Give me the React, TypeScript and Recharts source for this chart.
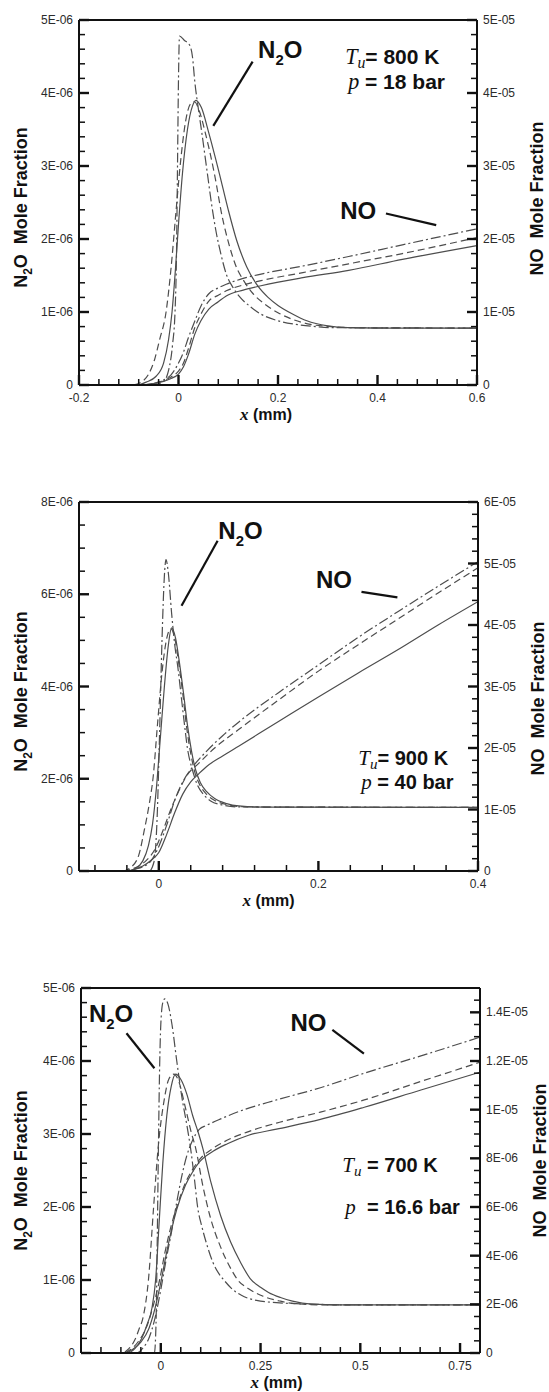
import { LineChart, Line, XAxis, YAxis, ReferenceLine, ReferenceDot } from "recharts";
import type { ReactNode } from "react";

type Pt = [number, number];

const SANS = "'Liberation Sans', Arial, Helvetica, sans-serif";
const SERIF = "'Liberation Serif', 'Times New Roman', serif";
const INK = "#111";
const CURVE = "#4d4d4d";
const DASHED = "7 4";
const DASH_DOT = "10 3 2 3";

// ---------- Tu = 800 K, p = 18 bar ----------
const p1XTicks = [-0.2, 0, 0.2, 0.4, 0.6];
const p1XLabels = ["-0.2", "0", "0.2", "0.4", "0.6"];
const p1LeftTicks = [0, 1e-6, 2e-6, 3e-6, 4e-6, 5e-6];
const p1LeftLabels = ["0", "1E-06", "2E-06", "3E-06", "4E-06", "5E-06"];
const p1RightTicks = [0, 1e-5, 2e-5, 3e-5, 4e-5, 5e-5];
const p1RightLabels = ["0", "1E-05", "2E-05", "3E-05", "4E-05", "5E-05"];

// N2O in 1e-6
const p1N2oSolid: Pt[] = [[-0.2, 0], [-0.085, 0], [-0.065, 0.04], [-0.045, 0.12], [-0.03, 0.3], [-0.02, 0.62], [-0.013, 1.0], [-0.006, 1.6], [0, 2.2], [0.008, 2.9], [0.018, 3.5], [0.028, 3.82], [0.035, 3.9], [0.046, 3.8], [0.061, 3.45], [0.082, 2.9], [0.1, 2.4], [0.117, 1.98], [0.137, 1.62], [0.159, 1.36], [0.18, 1.2], [0.2, 1.09], [0.23, 0.97], [0.258, 0.88], [0.3, 0.81], [0.34, 0.785], [0.4, 0.78], [0.6, 0.78]];
const p1N2oDashed: Pt[] = [[-0.2, 0], [-0.095, 0], [-0.075, 0.04], [-0.06, 0.15], [-0.048, 0.35], [-0.038, 0.62], [-0.025, 1.0], [-0.015, 1.6], [-0.006, 2.3], [0.004, 3.05], [0.014, 3.6], [0.024, 3.85], [0.032, 3.88], [0.042, 3.75], [0.054, 3.45], [0.072, 2.9], [0.088, 2.3], [0.103, 1.89], [0.116, 1.62], [0.131, 1.43], [0.15, 1.25], [0.173, 1.11], [0.2, 0.99], [0.229, 0.9], [0.265, 0.83], [0.307, 0.8], [0.35, 0.785], [0.6, 0.78]];
const p1N2oDashDot: Pt[] = [[-0.2, 0], [-0.05, 0], [-0.03, 0.05], [-0.02, 0.2], [-0.012, 0.55], [-0.007, 1.0], [-0.004, 1.8], [-0.002, 3.0], [0, 4.2], [0.002, 4.78], [0.012, 4.72], [0.022, 4.66], [0.028, 4.5], [0.033, 4.14], [0.04, 3.78], [0.047, 3.45], [0.058, 2.9], [0.066, 2.5], [0.075, 2.12], [0.085, 1.8], [0.096, 1.52], [0.11, 1.33], [0.124, 1.2], [0.145, 1.07], [0.166, 0.97], [0.2, 0.88], [0.236, 0.83], [0.275, 0.8], [0.314, 0.785], [0.6, 0.78]];
// NO in 1e-5
const p1NoSolid: Pt[] = [[-0.2, 0], [-0.08, 0], [-0.05, 0.02], [-0.03, 0.05], [-0.015, 0.09], [0, 0.15], [0.01, 0.25], [0.02, 0.42], [0.033, 0.7], [0.045, 0.88], [0.061, 1.04], [0.08, 1.14], [0.096, 1.22], [0.13, 1.3], [0.166, 1.36], [0.25, 1.47], [0.342, 1.57], [0.45, 1.72], [0.6, 1.91]];
const p1NoDashed: Pt[] = [[-0.2, 0], [-0.08, 0], [-0.05, 0.02], [-0.03, 0.06], [-0.015, 0.11], [0, 0.19], [0.01, 0.3], [0.02, 0.5], [0.033, 0.79], [0.045, 0.97], [0.061, 1.15], [0.08, 1.23], [0.096, 1.29], [0.13, 1.37], [0.166, 1.43], [0.25, 1.54], [0.342, 1.66], [0.45, 1.8], [0.6, 2.02]];
const p1NoDashDot: Pt[] = [[-0.2, 0], [-0.07, 0], [-0.05, 0.02], [-0.03, 0.07], [-0.015, 0.14], [0, 0.3], [0.01, 0.45], [0.02, 0.65], [0.033, 0.88], [0.045, 1.08], [0.061, 1.25], [0.08, 1.33], [0.096, 1.38], [0.13, 1.46], [0.166, 1.52], [0.25, 1.63], [0.342, 1.76], [0.45, 1.92], [0.6, 2.14]];

// ---------- Tu = 900 K, p = 40 bar ----------
const p2XTicks = [0, 0.2, 0.4];
const p2XLabels = ["0", "0.2", "0.4"];
const p2LeftTicks = [0, 2e-6, 4e-6, 6e-6, 8e-6];
const p2LeftLabels = ["0", "2E-06", "4E-06", "6E-06", "8E-06"];
const p2RightTicks = [0, 1e-5, 2e-5, 3e-5, 4e-5, 5e-5, 6e-5];
const p2RightLabels = ["0", "1E-05", "2E-05", "3E-05", "4E-05", "5E-05", "6E-05"];

const p2N2oSolid: Pt[] = [[-0.1, 0], [-0.04, 0], [-0.03, 0.05], [-0.02, 0.22], [-0.013, 0.55], [-0.008, 1.0], [-0.003, 1.8], [0.002, 2.9], [0.007, 4.0], [0.012, 4.9], [0.016, 5.27], [0.021, 5.05], [0.026, 4.5], [0.031, 3.85], [0.036, 3.15], [0.041, 2.6], [0.046, 2.2], [0.052, 1.92], [0.06, 1.72], [0.07, 1.57], [0.085, 1.46], [0.1, 1.41], [0.13, 1.385], [0.4, 1.38]];
const p2N2oDashed: Pt[] = [[-0.1, 0], [-0.045, 0], [-0.035, 0.08], [-0.025, 0.35], [-0.018, 0.9], [-0.012, 1.45], [-0.007, 2.05], [-0.002, 3.1], [0.004, 4.3], [0.01, 5.05], [0.015, 5.25], [0.02, 5.05], [0.025, 4.5], [0.03, 3.85], [0.035, 3.1], [0.04, 2.55], [0.045, 2.15], [0.051, 1.88], [0.06, 1.66], [0.07, 1.53], [0.085, 1.44], [0.1, 1.4], [0.13, 1.385], [0.4, 1.38]];
const p2N2oDashDot: Pt[] = [[-0.1, 0], [-0.012, 0], [-0.006, 0.2], [-0.002, 1.2], [0.001, 3.0], [0.004, 5.0], [0.007, 6.4], [0.009, 6.75], [0.012, 6.45], [0.016, 5.6], [0.02, 4.9], [0.024, 4.4], [0.028, 3.8], [0.032, 3.2], [0.036, 2.65], [0.042, 2.2], [0.048, 1.88], [0.056, 1.66], [0.065, 1.52], [0.08, 1.43], [0.1, 1.39], [0.4, 1.38]];
const p2NoSolid: Pt[] = [[-0.1, 0], [-0.04, 0], [-0.03, 0.03], [-0.02, 0.08], [-0.01, 0.17], [0, 0.3], [0.01, 0.6], [0.02, 0.95], [0.03, 1.25], [0.04, 1.45], [0.05, 1.58], [0.06, 1.7], [0.08, 1.87], [0.1, 2.03], [0.15, 2.43], [0.2, 2.83], [0.25, 3.22], [0.3, 3.6], [0.35, 4.0], [0.4, 4.38]];
const p2NoDashed: Pt[] = [[-0.1, 0], [-0.045, 0], [-0.035, 0.03], [-0.025, 0.08], [-0.015, 0.18], [-0.005, 0.35], [0.005, 0.65], [0.015, 1.0], [0.025, 1.3], [0.035, 1.55], [0.05, 1.75], [0.07, 2.0], [0.1, 2.3], [0.15, 2.78], [0.2, 3.25], [0.25, 3.68], [0.3, 4.1], [0.35, 4.52], [0.4, 4.93]];
const p2NoDashDot: Pt[] = [[-0.1, 0], [-0.04, 0], [-0.03, 0.03], [-0.02, 0.07], [-0.01, 0.16], [0, 0.4], [0.01, 0.75], [0.02, 1.15], [0.03, 1.45], [0.04, 1.65], [0.06, 1.95], [0.08, 2.2], [0.1, 2.42], [0.15, 2.9], [0.2, 3.35], [0.25, 3.8], [0.3, 4.22], [0.35, 4.63], [0.4, 5.03]];

// ---------- Tu = 700 K, p = 16.6 bar ----------
const p3XTicks = [0, 0.25, 0.5, 0.75];
const p3XLabels = ["0", "0.25", "0.5", "0.75"];
const p3LeftTicks = [0, 1e-6, 2e-6, 3e-6, 4e-6, 5e-6];
const p3LeftLabels = ["0", "1E-06", "2E-06", "3E-06", "4E-06", "5E-06"];
const p3RightTicks = [0, 2e-6, 4e-6, 6e-6, 8e-6, 1e-5, 1.2e-5, 1.4e-5];
const p3RightLabels = ["0", "2E-06", "4E-06", "6E-06", "8E-06", "1E-05", "1.2E-05", "1.4E-05"];

const p3N2oSolid: Pt[] = [[-0.2, 0], [-0.085, 0], [-0.065, 0.06], [-0.048, 0.2], [-0.035, 0.38], [-0.022, 0.62], [-0.013, 1.0], [-0.004, 1.8], [0.005, 2.6], [0.015, 3.25], [0.026, 3.65], [0.037, 3.82], [0.05, 3.75], [0.065, 3.55], [0.08, 3.25], [0.095, 3.0], [0.106, 2.79], [0.125, 2.35], [0.15, 1.88], [0.175, 1.52], [0.2, 1.24], [0.224, 1.02], [0.25, 0.9], [0.27, 0.83], [0.3, 0.76], [0.33, 0.71], [0.378, 0.67], [0.45, 0.66], [0.8, 0.66]];
const p3N2oDashed: Pt[] = [[-0.2, 0], [-0.1, 0], [-0.08, 0.06], [-0.065, 0.18], [-0.055, 0.32], [-0.044, 0.5], [-0.031, 1.0], [-0.018, 2.0], [-0.006, 2.85], [0.008, 3.45], [0.02, 3.75], [0.033, 3.82], [0.045, 3.72], [0.06, 3.4], [0.075, 3.05], [0.088, 2.79], [0.105, 2.3], [0.123, 1.88], [0.15, 1.45], [0.176, 1.15], [0.193, 1.0], [0.22, 0.88], [0.255, 0.78], [0.3, 0.71], [0.33, 0.68], [0.4, 0.66], [0.8, 0.66]];
const p3N2oDashDot: Pt[] = [[-0.2, 0], [-0.016, 0], [-0.012, 0.4], [-0.009, 1.5], [-0.006, 2.8], [-0.003, 3.9], [0, 4.5], [0.005, 4.8], [0.01, 4.85], [0.018, 4.78], [0.028, 4.5], [0.04, 4.0], [0.053, 3.5], [0.066, 3.1], [0.075, 2.79], [0.085, 2.35], [0.092, 2.01], [0.103, 1.73], [0.114, 1.51], [0.13, 1.25], [0.149, 1.06], [0.158, 1.0], [0.18, 0.87], [0.202, 0.79], [0.24, 0.72], [0.29, 0.69], [0.378, 0.67], [0.45, 0.66], [0.8, 0.66]];
// NO in 1e-6
const p3NoSolid: Pt[] = [[-0.2, 0], [-0.09, 0], [-0.07, 0.15], [-0.05, 0.45], [-0.03, 1.0], [-0.015, 1.8], [0, 2.9], [0.013, 4.0], [0.026, 5.0], [0.04, 5.9], [0.062, 6.9], [0.08, 7.45], [0.097, 7.85], [0.132, 8.3], [0.167, 8.6], [0.22, 8.95], [0.29, 9.2], [0.4, 9.6], [0.51, 10.1], [0.65, 10.8], [0.8, 11.54]];
const p3NoDashed: Pt[] = [[-0.2, 0], [-0.095, 0], [-0.075, 0.15], [-0.055, 0.5], [-0.035, 1.1], [-0.018, 2.0], [-0.003, 3.0], [0.01, 4.1], [0.024, 5.1], [0.04, 6.0], [0.062, 7.0], [0.08, 7.55], [0.097, 7.95], [0.132, 8.42], [0.167, 8.75], [0.22, 9.1], [0.29, 9.45], [0.4, 9.9], [0.51, 10.4], [0.65, 11.15], [0.8, 11.95]];
const p3NoDashDot: Pt[] = [[-0.2, 0], [-0.06, 0], [-0.045, 0.2], [-0.03, 0.6], [-0.015, 1.4], [0, 2.6], [0.013, 3.8], [0.026, 4.9], [0.04, 6.2], [0.053, 7.3], [0.065, 8.1], [0.08, 8.75], [0.097, 9.2], [0.114, 9.35], [0.15, 9.62], [0.2, 9.95], [0.29, 10.4], [0.4, 10.9], [0.51, 11.5], [0.65, 12.2], [0.8, 12.98]];

interface Curve {
  pts: Pt[];
  unit: number;
  axis: "left" | "right";
  dash?: string;
}

interface AxisSpec {
  max: number;
  ticks: number[];
  labels: string[];
  minor: number;
}

interface PanelProps {
  top: number;
  height: number;
  plotTop: number;
  plotBottom: number;
  plotLeft: number;
  plotRight: number;
  xDomain: [number, number];
  xTicks: number[];
  xLabels: string[];
  xMinor: number;
  left: AxisSpec;
  right: AxisSpec;
  curves: Curve[];
  titleShift: { x: number; left: number; right: number };
  notes: ReactNode[];
}

function minorTicks(lo: number, hi: number, step: number) {
  const a = Math.ceil(lo / step - 1e-6);
  const b = Math.floor(hi / step + 1e-6);
  const out: number[] = [];
  for (let i = a; i <= b; i++) out.push(i * step);
  return out;
}

// ticks point into the plot; only the major ones carry a label
function makeTick(side: "bottom" | "left" | "right", majors: number[], labels: string[], step: number) {
  return (p: any) => {
    const i = majors.findIndex((m) => Math.abs(m - p.payload.value) < step * 0.01);
    const major = i >= 0;
    const len = major ? 10 : 6;
    const sw = major ? 2.4 : 1.5;
    const { x, y } = p;
    const txt = { fontFamily: SANS, fontSize: 12, fill: "#2b2b2b" };
    if (side === "bottom") {
      return (
        <g>
          <line x1={x} x2={x} y1={y} y2={y - len} stroke={INK} strokeWidth={sw} />
          {major && <text x={x} y={y + 17} textAnchor="middle" {...txt}>{labels[i]}</text>}
        </g>
      );
    }
    const dir = side === "left" ? 1 : -1;
    return (
      <g>
        <line x1={x} x2={x + dir * len} y1={y} y2={y} stroke={INK} strokeWidth={sw} />
        {major && (
          <text x={x - dir * 6} y={y + 4} textAnchor={side === "left" ? "end" : "start"} {...txt}>
            {labels[i]}
          </text>
        )}
      </g>
    );
  };
}

const rows = (c: Curve) => c.pts.map(([x, v]) => ({ x, y: v * c.unit }));

function N2OText({ x, y, size }: { x: number; y: number; size: number }) {
  return (
    <text x={x} y={y} fontFamily={SANS} fontWeight="bold" fontSize={size} fill={INK}>
      N<tspan fontSize={size * 0.62} dy={size * 0.28}>2</tspan>
      <tspan dy={-size * 0.28}>O</tspan>
    </text>
  );
}

function Conditions({ x, y, size, gap, first, second }: { x: number; y: number; size: number; gap: number; first: string; second: string }) {
  const base = { fontFamily: SANS, fontWeight: "bold" as const, fontSize: size, fill: INK, style: { whiteSpace: "pre" as const } };
  return (
    <g>
      <text x={x} y={y} {...base}>
        <tspan fontFamily={SERIF} fontStyle="italic" fontWeight="normal" fontSize={size * 1.05}>T</tspan>
        <tspan fontFamily={SERIF} fontStyle="italic" fontWeight="normal" fontSize={size * 0.75} dy={4}>u</tspan>
        <tspan dy={-4}>{first}</tspan>
      </text>
      <text x={x + 3} y={y + gap} {...base}>
        <tspan fontFamily={SERIF} fontStyle="italic" fontWeight="normal" fontSize={size * 1.05}>p</tspan>
        <tspan>{second}</tspan>
      </text>
    </g>
  );
}

// text anchored to a data point on the chart
function note(key: string, axis: "left" | "right", x: number, y: number, draw: (px: number, py: number) => ReactNode) {
  return (
    <ReferenceDot
      key={key}
      yAxisId={axis}
      x={x}
      y={y}
      r={0}
      fill="none"
      stroke="none"
      ifOverflow="visible"
      label={(lp: any) => draw(lp.viewBox.x, lp.viewBox.y)}
    />
  );
}

function pointer(key: string, axis: "left" | "right", a: [number, number], b: [number, number]) {
  return (
    <ReferenceLine
      key={key}
      yAxisId={axis}
      segment={[{ x: a[0], y: a[1] }, { x: b[0], y: b[1] }]}
      stroke={INK}
      strokeWidth={2.2}
      ifOverflow="visible"
    />
  );
}

function Panel(props: PanelProps) {
  const { top, height, plotTop, plotBottom, plotLeft, plotRight, xDomain, left, right, titleShift } = props;
  const axisLine = { stroke: INK, strokeWidth: 2 };
  const titleText = { fontFamily: SANS, fontWeight: "bold" as const, fontSize: 18, fill: INK, style: { whiteSpace: "pre" as const } };
  return (
    <div style={{ position: "absolute", left: 0, top }}>
      <LineChart width={549} height={height} margin={{ top: plotTop, right: 0, bottom: height - plotBottom - 30, left: 0 }}>
        <XAxis
          type="number"
          dataKey="x"
          domain={xDomain}
          allowDataOverflow
          ticks={minorTicks(xDomain[0], xDomain[1], props.xMinor)}
          interval={0}
          tickSize={0}
          tickMargin={0}
          tickLine={false}
          tick={makeTick("bottom", props.xTicks, props.xLabels, props.xMinor)}
          axisLine={axisLine}
          height={30}
          label={(lp: any) => (
            <text
              x={lp.viewBox.x + lp.viewBox.width / 2 + titleShift.x}
              y={lp.viewBox.y + 35}
              textAnchor="middle"
              {...titleText}
              fontSize={16}
            >
              <tspan fontFamily={SERIF} fontStyle="italic" fontSize={17}>x</tspan>
              <tspan> (mm)</tspan>
            </text>
          )}
        />
        <YAxis
          yAxisId="left"
          orientation="left"
          type="number"
          width={plotLeft}
          domain={[0, left.max]}
          allowDataOverflow
          ticks={minorTicks(0, left.max, left.minor)}
          interval={0}
          tickSize={0}
          tickMargin={0}
          tickLine={false}
          tick={makeTick("left", left.ticks, left.labels, left.minor)}
          axisLine={axisLine}
          label={(lp: any) => (
            <text
              transform={`translate(${lp.viewBox.x + 27},${lp.viewBox.y + lp.viewBox.height / 2 + titleShift.left}) rotate(-90)`}
              textAnchor="middle"
              {...titleText}
            >
              N<tspan fontSize={12} dy={5}>2</tspan>
              <tspan dy={-5}>O  Mole Fraction</tspan>
            </text>
          )}
        />
        <YAxis
          yAxisId="right"
          orientation="right"
          type="number"
          width={549 - plotRight}
          domain={[0, right.max]}
          allowDataOverflow
          ticks={minorTicks(0, right.max, right.minor)}
          interval={0}
          tickSize={0}
          tickMargin={0}
          tickLine={false}
          tick={makeTick("right", right.ticks, right.labels, right.minor)}
          axisLine={axisLine}
          label={(lp: any) => (
            <text
              transform={`translate(${lp.viewBox.x + 66},${lp.viewBox.y + lp.viewBox.height / 2 + titleShift.right}) rotate(-90)`}
              textAnchor="middle"
              {...titleText}
            >
              NO  Mole Fraction
            </text>
          )}
        />
        <ReferenceLine yAxisId="left" y={left.max} stroke={INK} strokeWidth={2} ifOverflow="visible" />
        {props.curves.map((c, i) => (
          <Line
            key={i}
            yAxisId={c.axis}
            data={rows(c)}
            dataKey="y"
            type="monotone"
            dot={false}
            activeDot={false}
            stroke={CURVE}
            strokeWidth={1.2}
            strokeDasharray={c.dash}
            isAnimationActive={false}
          />
        ))}
        {props.notes}
      </LineChart>
    </div>
  );
}

const curveSet = (n2o: Pt[][], no: Pt[][], n2oUnit: number, noUnit: number): Curve[] => {
  const dashes = [undefined, DASHED, DASH_DOT];
  return [
    ...n2o.map((pts, i) => ({ pts, unit: n2oUnit, axis: "left" as const, dash: dashes[i] })),
    ...no.map((pts, i) => ({ pts, unit: noUnit, axis: "right" as const, dash: dashes[i] })),
  ];
};

export default function App() {
  return (
    <div style={{ position: "absolute", left: 0, top: 0, width: 549, height: 1392, background: "#fff" }}>
      <Panel
        top={0}
        height={440}
        plotTop={20}
        plotBottom={385}
        plotLeft={79}
        plotRight={477}
        xDomain={[-0.2, 0.6]}
        xTicks={p1XTicks}
        xLabels={p1XLabels}
        xMinor={0.04}
        left={{ max: 5e-6, ticks: p1LeftTicks, labels: p1LeftLabels, minor: 0.2e-6 }}
        right={{ max: 5e-5, ticks: p1RightTicks, labels: p1RightLabels, minor: 0.2e-5 }}
        curves={curveSet([p1N2oSolid, p1N2oDashed, p1N2oDashDot], [p1NoSolid, p1NoDashed, p1NoDashDot], 1e-6, 1e-5)}
        titleShift={{ x: -12, left: 5, right: -4 }}
        notes={[
          note("n2o", "left", 0.16, 4.48e-6, (x, y) => <N2OText x={x} y={y} size={24} />),
          pointer("n2o-line", "left", [0.149, 4.43e-6], [0.07, 3.55e-6]),
          note("no", "right", 0.325, 2.28e-5, (x, y) => (
            <text x={x} y={y} fontFamily={SANS} fontWeight="bold" fontSize={24} fill={INK}>NO</text>
          )),
          pointer("no-line", "right", [0.417, 2.35e-5], [0.518, 2.19e-5]),
          note("cond", "left", 0.335, 4.4e-6, (x, y) => (
            <Conditions x={x} y={y} size={21} gap={25} first="= 800 K" second=" = 18 bar" />
          )),
        ]}
      />
      <Panel
        top={480}
        height={440}
        plotTop={22}
        plotBottom={391}
        plotLeft={79}
        plotRight={478}
        xDomain={[-0.1, 0.4]}
        xTicks={p2XTicks}
        xLabels={p2XLabels}
        xMinor={0.04}
        left={{ max: 8e-6, ticks: p2LeftTicks, labels: p2LeftLabels, minor: 0.5e-6 }}
        right={{ max: 6e-5, ticks: p2RightTicks, labels: p2RightLabels, minor: 0.2e-5 }}
        curves={curveSet([p2N2oSolid, p2N2oDashed, p2N2oDashDot], [p2NoSolid, p2NoDashed, p2NoDashDot], 1e-6, 1e-5)}
        titleShift={{ x: -10, left: 5, right: 12 }}
        notes={[
          note("n2o", "left", 0.0746, 7.2e-6, (x, y) => <N2OText x={x} y={y} size={24} />),
          pointer("n2o-line", "left", [0.0737, 7.16e-6], [0.0285, 5.75e-6]),
          note("no", "right", 0.197, 4.6e-5, (x, y) => (
            <text x={x} y={y} fontFamily={SANS} fontWeight="bold" fontSize={24} fill={INK}>NO</text>
          )),
          pointer("no-line", "right", [0.254, 4.54e-5], [0.299, 4.45e-5]),
          note("cond", "right", 0.25, 1.73e-5, (x, y) => (
            <Conditions x={x} y={y} size={20} gap={24} first="= 900 K" second=" = 40 bar" />
          )),
        ]}
      />
      <Panel
        top={960}
        height={432}
        plotTop={28}
        plotBottom={393}
        plotLeft={81}
        plotRight={480}
        xDomain={[-0.2, 0.8]}
        xTicks={p3XTicks}
        xLabels={p3XLabels}
        xMinor={0.05}
        left={{ max: 5e-6, ticks: p3LeftTicks, labels: p3LeftLabels, minor: 0.2e-6 }}
        right={{ max: 1.5e-5, ticks: p3RightTicks, labels: p3RightLabels, minor: 0.5e-6 }}
        curves={curveSet([p3N2oSolid, p3N2oDashed, p3N2oDashDot], [p3NoSolid, p3NoDashed, p3NoDashDot], 1e-6, 1e-6)}
        titleShift={{ x: -4, left: 0, right: -10 }}
        notes={[
          note("n2o", "left", -0.18, 4.53e-6, (x, y) => <N2OText x={x} y={y} size={24} />),
          pointer("n2o-line", "left", [-0.086, 4.38e-6], [-0.016, 3.9e-6]),
          note("no", "right", 0.325, 13.23e-6, (x, y) => (
            <text x={x} y={y} fontFamily={SANS} fontWeight="bold" fontSize={24} fill={INK}>NO</text>
          )),
          pointer("no-line", "right", [0.43, 13.28e-6], [0.509, 12.3e-6]),
          note("cond", "right", 0.455, 7.42e-6, (x, y) => (
            <Conditions x={x} y={y} size={20} gap={42} first=" = 700 K" second="  = 16.6 bar" />
          )),
        ]}
      />
    </div>
  );
}
